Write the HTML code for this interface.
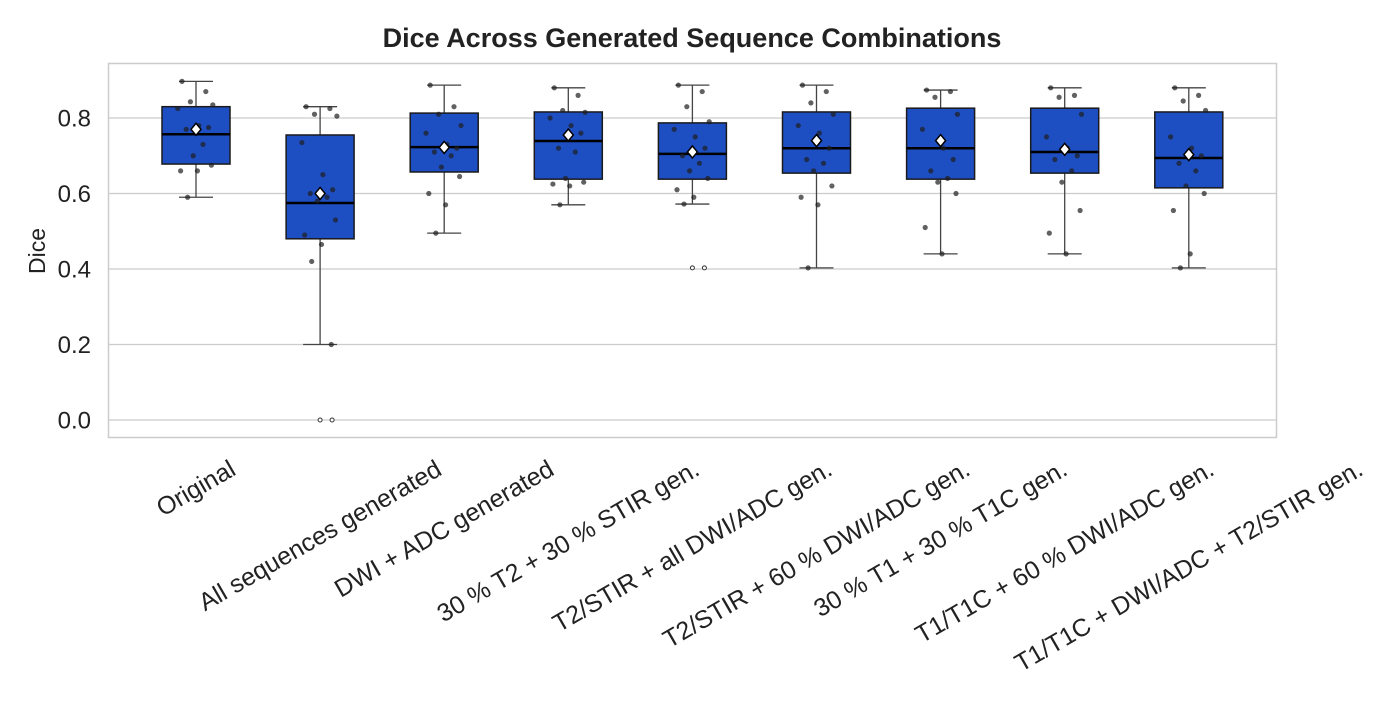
<!DOCTYPE html>
<html><head><meta charset="utf-8"><style>
body{margin:0;background:#fff;width:1400px;height:700px;overflow:hidden}
text{font-family:"Liberation Sans",sans-serif;fill:#222}
</style></head><body>
<svg id="chart" width="1400" height="700" xmlns="http://www.w3.org/2000/svg">
<text x="692" y="47" text-anchor="middle" font-size="27" font-weight="bold">Dice Across Generated Sequence Combinations</text>
<text transform="translate(45,251) rotate(-90)" text-anchor="middle" font-size="23">Dice</text>
<g id="grid"></g><g id="marks"></g><g id="ticks"></g>
<rect x="108.5" y="63.5" width="1168" height="374" fill="none" stroke="#ccc" stroke-width="1.5"/>
</svg>
<script>
const categories=["Original","All sequences generated","DWI + ADC generated","30 % T2 + 30 % STIR gen.","T2/STIR + all DWI/ADC gen.","T2/STIR + 60 % DWI/ADC gen.","30 % T1 + 30 % T1C gen.","T1/T1C + 60 % DWI/ADC gen.","T1/T1C + DWI/ADC + T2/STIR gen."];
const q1s=[0.678,0.48,0.657,0.638,0.638,0.654,0.638,0.654,0.615];
const q3s=[0.83,0.755,0.813,0.816,0.787,0.816,0.826,0.826,0.816];
const medians=[0.757,0.575,0.723,0.739,0.705,0.72,0.72,0.71,0.694];
const whiskLo=[0.59,0.2,0.495,0.57,0.572,0.403,0.44,0.44,0.403];
const whiskHi=[0.897,0.83,0.887,0.88,0.887,0.887,0.874,0.88,0.88];
const means=[0.77,0.6,0.722,0.755,0.71,0.74,0.74,0.717,0.703];
const outliers=[[],[0,0],[],[],[0.403,0.403],[],[],[],[]];
const points=[
[0.897,0.87,0.843,0.835,0.825,0.78,0.775,0.77,0.73,0.7,0.675,0.66,0.66,0.59],
[0.83,0.825,0.81,0.805,0.735,0.65,0.61,0.6,0.59,0.58,0.53,0.49,0.465,0.42,0.2],
[0.887,0.83,0.81,0.78,0.76,0.73,0.72,0.71,0.7,0.67,0.645,0.6,0.57,0.495],
[0.88,0.86,0.82,0.815,0.8,0.78,0.76,0.72,0.71,0.64,0.63,0.625,0.62,0.57],
[0.887,0.87,0.83,0.79,0.77,0.75,0.72,0.7,0.68,0.66,0.64,0.61,0.59,0.572],
[0.887,0.87,0.84,0.81,0.78,0.76,0.72,0.69,0.68,0.66,0.62,0.59,0.57,0.403],
[0.874,0.87,0.855,0.81,0.77,0.72,0.69,0.66,0.64,0.63,0.6,0.51,0.44],
[0.88,0.86,0.855,0.81,0.75,0.72,0.7,0.69,0.66,0.63,0.555,0.495,0.44],
[0.88,0.86,0.845,0.82,0.75,0.72,0.7,0.68,0.66,0.62,0.6,0.555,0.44,0.403]];
const yTicks=[0,0.2,0.4,0.6,0.8];
const NS="http://www.w3.org/2000/svg";
const y=v=>420-v*377.5;
const x=i=>196+i*124.1;
function mk(tag,attrs,parent){const e=document.createElementNS(NS,tag);for(const k in attrs)e.setAttribute(k,attrs[k]);document.getElementById(parent).appendChild(e);return e;}
yTicks.forEach(t=>{
 const g=mk('line',{x1:108,x2:1276,y1:y(t),y2:y(t),stroke:'#ccc','stroke-width':1.3},'grid');
 
 
 const tx=mk('text',{x:91,y:y(t)+8.5,'text-anchor':'end','font-size':24},'ticks');
 tx.textContent=t.toFixed(1);
 
 
});
const offs=[-0.5,0.35,-0.2,0.6,-0.65,0.1,0.45,-0.35,0.25,-0.1,0.55,-0.55,0.05,-0.3,0.4];
categories.forEach((c,i)=>{
 const cx=x(i),hw=34;
 let e=mk('line',{x1:cx,x2:cx,y1:y(whiskLo[i]),y2:y(whiskHi[i]),stroke:'#444','stroke-width':1.3},'marks');
 
 
 [whiskLo[i],whiskHi[i]].forEach(w=>{const c2=mk('line',{x1:cx-17,x2:cx+17,y1:y(w),y2:y(w),stroke:'#444','stroke-width':1.3},'marks');
 
 });
 e=mk('rect',{x:cx-hw,y:y(q3s[i]),width:hw*2,height:y(q1s[i])-y(q3s[i]),fill:'#1e4fc2',stroke:'#1a1a1a','stroke-width':1.5},'marks');
 
 
 e=mk('line',{x1:cx-hw,x2:cx+hw,y1:y(medians[i]),y2:y(medians[i]),stroke:'#000','stroke-width':2.5},'marks');
 
 
 outliers[i].forEach((o,k)=>{const c3=mk('circle',{cx:cx+(k?12:0),cy:y(o),r:2,fill:'#fff',stroke:'#333','stroke-width':1},'marks');
 
 });
 points[i].forEach((p,k)=>{const d=mk('circle',{cx:cx+offs[k%offs.length]*28,cy:y(p),r:2.6,fill:'rgba(30,30,30,0.7)'},'marks');
 
 });
 const my=y(means[i]);
 e=mk('polygon',{points:`${cx},${my-6} ${cx+5},${my} ${cx},${my+6} ${cx-5},${my}`,fill:'#fff',stroke:'#000','stroke-width':1.5},'marks');
 
 
 const t=mk('text',{'text-anchor':'middle','font-size':25,'dominant-baseline':'central'},'ticks');
 t.textContent=c;
 
 
 const w=t.getComputedTextLength();
 const cy=455+w*0.25+12;
 t.setAttribute('transform',`translate(${cx},${cy}) rotate(-30)`);
});
</script>
</body></html>
